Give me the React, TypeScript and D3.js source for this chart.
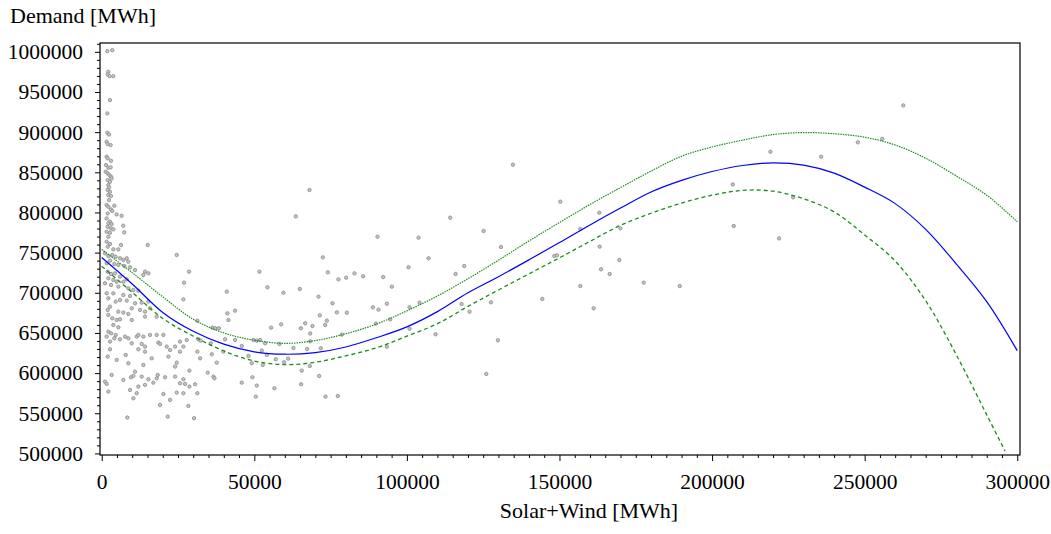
import React from "react";
import * as d3 from "d3";

// fitted curve (solid blue) and its two green bands
const fitX = [
  0, 10000, 20000, 30000, 40000, 50000, 60000, 70000, 80000, 90000, 100000,
  110000, 120000, 130000, 140000, 150000, 160000, 170000, 180000, 190000, 200000,
  210000, 220000, 230000, 240000, 250000, 260000, 270000, 280000, 290000, 300000,
];
const fitDemand = [
  744000, 711000, 675500, 652000, 636000, 626500, 623500, 625500, 632500, 644000, 657500,
  676500, 700000, 720000, 741000, 762500, 784500, 805500, 825500, 840000, 851000,
  858500, 861800, 859000, 849000, 831500, 811000, 779000, 736000, 689000, 628000,
];
const upperDemand = [
  754000, 725000, 695000, 667000, 650000, 641000, 637000, 640500, 649000, 661000, 677500,
  696000, 717500, 740500, 764500, 787500, 810000, 831000, 851500, 870000, 881500,
  890000, 897000, 899500, 898000, 893700, 884000, 867500, 845500, 821500, 788500,
];
const lowerX = [
  0, 10000, 20000, 30000, 40000, 50000, 60000, 70000, 80000, 90000, 100000,
  110000, 120000, 130000, 140000, 150000, 160000, 170000, 180000, 190000, 200000,
  210000, 220000, 230000, 240000, 250000, 260000, 270000, 280000, 290000, 296000,
];
const lowerDemand = [
  733000, 700500, 668000, 646000, 627500, 615000, 610500, 613500, 621500, 631500, 646000,
  661500, 683000, 703500, 723500, 743500, 764000, 784000, 799000, 811700, 821500,
  827500, 826500, 817000, 800700, 772000, 739500, 690000, 623000, 548000, 503000,
];

const xTicks = [0, 50000, 100000, 150000, 200000, 250000, 300000];
const yTicks = [500000, 550000, 600000, 650000, 700000, 750000, 800000, 850000, 900000, 950000, 1000000];

// observations: [solar+wind, demand]
const scatterPoints = [
  [1840, 1000900], [3470, 1002100], [2170, 975100], [1950, 971800], [2600, 969700], [3800, 969700],
  [2700, 939900], [1840, 923300], [1840, 899200], [2390, 897100], [1620, 888000], [1950, 885100],
  [2930, 883900], [1620, 869400], [1950, 867300], [3040, 864400], [1400, 859000], [2170, 855700],
  [2930, 856100], [1290, 850700], [1950, 848600], [2500, 846500], [3040, 844500], [3250, 842400],
  [1950, 840300], [2700, 838200], [2170, 834100], [2390, 831200], [1950, 827900], [2700, 825800],
  [2170, 821700], [3040, 820400], [2390, 815400], [1620, 809200], [2170, 807100], [3040, 803800],
  [4120, 808400], [3470, 801700], [1950, 798800], [4890, 797600], [6520, 795900], [1620, 792600],
  [2700, 788500], [2170, 786400], [3250, 785600], [7070, 783500], [1950, 782200], [3040, 780200],
  [3800, 779000], [1620, 776000], [2700, 774800], [7390, 775200], [2170, 769800],
  [1630, 763600], [2720, 760700], [1960, 757400], [3810, 754100], [5450, 754100], [6330, 759500],
  [15070, 759500], [24580, 747000], [1080, 749100], [2180, 745800], [3490, 747000], [4580, 744900],
  [6000, 742900], [7100, 740800], [8190, 742900], [8730, 738700], [2720, 740000], [1630, 736600],
  [4140, 735800], [5450, 734600], [7420, 733300], [9280, 731700], [10920, 728300], [14200, 726300],
  [15290, 724200], [13650, 722100], [1960, 726300], [3050, 723400], [4360, 724200], [6000, 720100],
  [2180, 718000], [3810, 715900], [4910, 713800], [7100, 713800], [8190, 716700], [1080, 711800],
  [3050, 709700], [5450, 707600], [8730, 705500], [10370, 703500], [12010, 702600], [1630, 699300],
  [3810, 699300], [7100, 697200], [9280, 696000], [2180, 693100], [4580, 689000], [6000, 691000],
  [8190, 690200], [10920, 686900], [13110, 687700], [15290, 689000], [9830, 680600], [12560, 678600],
  [14200, 676500], [15840, 680600], [2720, 682700], [1960, 678600], [5450, 676500], [7100, 675300],
  [8730, 673600], [14200, 670300], [2180, 672400], [3490, 668200], [4910, 666100], [6000, 667000],
  [9830, 666100], [18020, 670300], [3810, 659900], [5450, 657000], [2180, 651600], [3050, 649500],
  [4580, 647500], [1630, 645400], [4140, 643300], [6000, 642100], [7640, 645400], [8730, 643300],
  [11470, 645400], [12010, 647500], [13650, 645400], [15840, 647500], [18020, 647500], [20210, 647500],
  [2720, 639200], [9830, 637100], [13110, 636300], [14200, 633000], [18570, 638000], [19110, 636300],
  [21300, 633000], [24040, 633000], [22400, 628800], [2720, 629600], [1960, 620500], [7860, 622600],
  [12010, 629600], [14200, 626700], [16380, 618400], [21850, 620500], [24580, 613000], [4910, 616400],
  [8730, 612200], [13650, 610100], [24040, 608100], [3270, 597700], [1080, 589400], [1630, 586500],
  [7100, 591500], [9610, 594800], [10920, 601800], [10370, 596500], [13110, 595600], [12010, 583200],
  [15290, 592300], [14200, 585300], [18350, 597700], [18020, 593500], [16930, 588100], [20760, 594800],
  [24040, 595600], [2180, 577000], [9280, 579000], [11470, 574900], [10370, 568600], [20210, 574000],
  [22400, 566600], [24580, 575700], [19110, 560400], [8400, 544600], [21630, 545800],
  [28620, 726300], [51680, 726300], [26980, 712600], [40970, 701400], [54310, 706800], [26760, 691800],
  [41190, 674400], [43700, 677700], [41520, 666100], [31350, 665300], [55510, 656600], [36270, 656600],
  [37150, 655800], [38350, 655800], [25670, 639200], [27860, 641200], [31680, 642100], [32450, 640400],
  [35730, 637100], [40430, 642100], [43700, 641200], [49720, 641200], [50810, 640400], [51900, 641200],
  [53540, 637100], [58240, 636300], [45890, 633800], [26760, 633000], [25670, 626700], [31350, 626700],
  [39880, 626700], [52450, 628000], [36050, 623400], [54090, 622600], [32230, 618400], [48080, 621300],
  [57040, 617200], [37690, 613000], [49170, 612200], [52780, 610100], [28730, 603100], [34740, 600600],
  [36600, 595600], [36930, 593500], [49390, 594800], [25670, 587300], [26760, 592300], [27310, 586500],
  [28730, 583200], [30590, 586100], [45890, 588100], [50810, 584400], [56600, 581100], [26760, 574900],
  [31350, 574900], [50480, 570700], [28400, 559100], [30260, 543800],
  [134750, 859400], [68080, 827900], [63600, 795100], [114200, 793500], [90370, 769800], [103820, 768600],
  [125130, 776900], [130820, 757000], [72450, 744100], [107100, 742900], [100540, 731700], [118790, 733300],
  [115950, 723400], [74090, 725400], [77590, 716700], [80100, 718800], [82830, 724200], [85680, 720500],
  [92230, 719600], [95080, 707600], [59550, 700100], [64910, 704700], [71030, 695200], [75620, 686900],
  [88850, 681900], [90700, 679000], [93440, 686400], [100870, 681900], [104150, 687700], [77040, 675600],
  [80320, 675200], [71460, 671900], [66660, 662000], [73760, 665300], [73220, 659900], [69060, 658600],
  [65240, 655800], [89830, 661600], [94530, 666900], [100870, 655300], [117920, 686000], [120540, 676500],
  [127540, 688100], [144370, 692300], [148300, 745800], [149180, 746600], [78680, 647900], [68300, 639600],
  [67310, 630000], [71790, 630900], [62830, 631300], [61080, 618000], [59770, 613400], [93440, 632900],
  [109390, 648300], [68190, 608900], [65560, 603100], [71250, 596400], [65350, 586100], [73330, 570700],
  [77370, 571500], [129830, 640800], [126010, 598900], [58790, 660700], [68300, 649300],
  [150270, 813400], [163060, 799700], [156830, 779400], [169940, 780200], [163170, 757400], [169620, 740800],
  [163600, 729200], [166450, 723400], [156830, 708400], [177600, 712600], [189400, 708400], [161200, 680600],
  [206780, 834900], [219130, 875600], [235740, 869400], [226560, 818800], [207110, 783100], [221970, 767700],
  [262650, 933300], [247760, 887300], [255760, 891700],
];

const App = () => {
  const svg = React.useRef(null);

  React.useEffect(() => {
    drawChart(svg);
  }, [svg]);

  return (
    <svg
      ref={svg}
      style={{ position: "absolute", left: 0, top: 0, display: "block" }}
    />
  );
};

function drawChart(svgRef) {
  const w = 1051;
  const h = 534;
  const left = 100;
  const right = 1020;
  const top = 43;
  const bottom = 455;
  const font = "Liberation Serif, Tinos, Times New Roman, DejaVu Serif, Noto Serif, serif";

  const svg = d3
    .select(svgRef.current)
    .attr("width", w)
    .attr("height", h)
    .style("font-family", font);
  svg.selectAll("*").remove();

  const xScale = d3.scaleLinear().domain([-560, 300900]).range([left, right]);
  const yScale = d3.scaleLinear().domain([498000, 1011000]).range([bottom, top]);

  svg
    .append("clipPath")
    .attr("id", "plot-clip")
    .append("rect")
    .attr("x", left)
    .attr("y", top)
    .attr("width", right - left)
    .attr("height", bottom - top);

  // scatter
  svg
    .append("g")
    .attr("clip-path", "url(#plot-clip)")
    .selectAll("circle")
    .data(scatterPoints)
    .enter()
    .append("circle")
    .attr("cx", (d) => xScale(d[0]))
    .attr("cy", (d) => yScale(d[1]))
    .attr("r", 1.7)
    .attr("fill", "#c4c4c4")
    .attr("stroke", "#8a8a8a")
    .attr("stroke-width", 0.8);

  const line = d3
    .line()
    .x((d) => xScale(d[0]))
    .y((d) => yScale(d[1]))
    .curve(d3.curveCatmullRom.alpha(0.5));

  const curves = svg.append("g").attr("clip-path", "url(#plot-clip)");

  curves
    .append("path")
    .attr("d", line(fitX.map((x, i) => [x, upperDemand[i]])))
    .attr("fill", "none")
    .attr("stroke", "#1e8c1e")
    .attr("stroke-width", 1.2)
    .attr("stroke-dasharray", "1.5,1");

  curves
    .append("path")
    .attr("d", line(lowerX.map((x, i) => [x, lowerDemand[i]])))
    .attr("fill", "none")
    .attr("stroke", "#1e8c1e")
    .attr("stroke-width", 1.3)
    .attr("stroke-dasharray", "4,3");

  curves
    .append("path")
    .attr("d", line(fitX.map((x, i) => [x, fitDemand[i]])))
    .attr("fill", "none")
    .attr("stroke", "#0000ff")
    .attr("stroke-width", 1.2);

  // x axis: major + minor ticks
  const xMinor = d3.range(0, 300001, 5000).filter((v) => v % 50000 !== 0);
  svg
    .append("g")
    .attr("transform", "translate(0," + bottom + ")")
    .call(d3.axisBottom(xScale).tickValues(xMinor).tickSize(3).tickFormat(() => ""))
    .call((g) => g.select(".domain").remove());

  const xAxis = svg
    .append("g")
    .attr("transform", "translate(0," + bottom + ")")
    .call(d3.axisBottom(xScale).tickValues(xTicks).tickSize(6).tickFormat(d3.format("d")));
  xAxis.attr("font-family", null).attr("font-size", 21.5);
  xAxis.select(".domain").remove();
  xAxis.selectAll("text").attr("y", 34).attr("dy", 0).attr("fill", "#000");

  // y axis
  const yMinor = d3.range(500000, 1010001, 10000).filter((v) => v % 50000 !== 0);
  svg
    .append("g")
    .attr("transform", "translate(" + left + ",0)")
    .call(d3.axisLeft(yScale).tickValues(yMinor).tickSize(3).tickFormat(() => ""))
    .call((g) => g.select(".domain").remove());

  const yAxis = svg
    .append("g")
    .attr("transform", "translate(" + left + ",0)")
    .call(d3.axisLeft(yScale).tickValues(yTicks).tickSize(5).tickPadding(12).tickFormat(d3.format("d")));
  yAxis.attr("font-family", null).attr("font-size", 21.5);
  yAxis.select(".domain").remove();
  yAxis.selectAll("text").attr("fill", "#000");

  // frame
  svg
    .append("rect")
    .attr("x", left)
    .attr("y", top)
    .attr("width", right - left)
    .attr("height", bottom - top)
    .attr("fill", "none")
    .attr("stroke", "#000")
    .attr("stroke-width", 1.2);

  // titles
  svg
    .append("text")
    .attr("x", 10)
    .attr("y", 23)
    .attr("font-size", 22)
    .text("Demand [MWh]");

  svg
    .append("text")
    .attr("x", 589)
    .attr("y", 518)
    .attr("text-anchor", "middle")
    .attr("font-size", 22)
    .text("Solar+Wind [MWh]");
}

export default App;
